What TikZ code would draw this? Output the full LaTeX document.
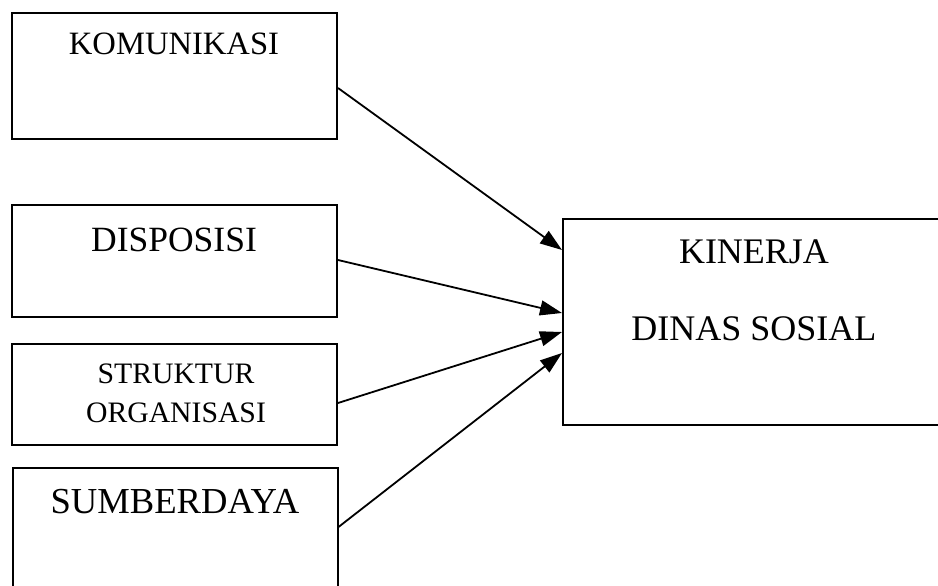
\documentclass[tikz,border=0pt]{standalone}
\usepackage{fontspec}
\setmainfont{Liberation Serif}
\usetikzlibrary{arrows.meta}

\begin{document}
\begin{tikzpicture}[x=1pt,y=-1pt,
  kotak/.style={draw,line width=2pt,rectangle,inner sep=0pt},
  teks/.style={anchor=base,inner sep=0pt},
  panah/.style={line width=1.8pt,-{Triangle[length=22pt,width=15pt]}}]
\useasboundingbox (0,0) rectangle (938,586);
\clip (0,0) rectangle (938,586);

% kotak kiri
\node [kotak,minimum width=325pt,minimum height=126pt] (kom) at (174.5,76) {};
\node [kotak,minimum width=325pt,minimum height=112pt] (dis) at (174.5,261) {};
\node [kotak,minimum width=325pt,minimum height=101pt] (str) at (174.5,394.5) {};
\node [kotak,minimum width=325pt,minimum height=142pt] (sum) at (175,539) {};

% kotak kanan
\node [kotak,minimum width=400pt,minimum height=206pt] (kin) at (763,322) {};

% teks
\node [teks,font=\fontsize{32.6}{38}\selectfont] (tkom) at (174,55) {KOMUNIKASI};
\node [teks,font=\fontsize{35.5}{41}\selectfont] (tdis) at (174,251) {DISPOSISI};
\node [teks,font=\fontsize{29.7}{35}\selectfont] (tstr1) at (176,383) {STRUKTUR};
\node [teks,font=\fontsize{29.7}{35}\selectfont] (tstr2) at (176,422) {ORGANISASI};
\node [teks,font=\fontsize{36.6}{42}\selectfont] (tsum) at (175,513) {SUMBERDAYA};
\node [teks,font=\fontsize{36}{42}\selectfont] (tkin1) at (754,263) {KINERJA};
\node [teks,font=\fontsize{36}{42}\selectfont] (tkin2) at (754,340) {DINAS SOSIAL};

% titik panah
\coordinate (kom-o) at (kom.east |- 0,88);
\coordinate (dis-o) at (dis.east |- 0,260);
\coordinate (str-o) at (str.east |- 0,403);
\coordinate (sum-o) at (sum.east |- 0,527);
\coordinate (kin-a) at (kin.west |- 0,250);
\coordinate (kin-b) at (kin.west |- 0,313);
\coordinate (kin-c) at (kin.west |- 0,332);
\coordinate (kin-d) at (kin.west |- 0,353);

\draw [panah] (kom-o) -- (kin-a);
\draw [panah] (dis-o) -- (kin-b);
\draw [panah] (str-o) -- (kin-c);
\draw [panah] (sum-o) -- (kin-d);
\end{tikzpicture}
\end{document}
